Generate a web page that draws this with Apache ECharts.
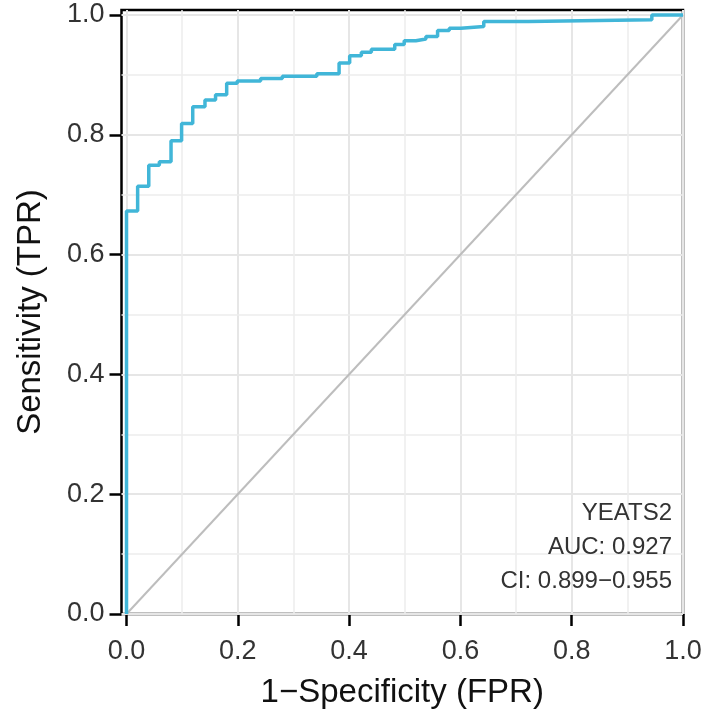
<!DOCTYPE html>
<html><head><meta charset="utf-8">
<script src="https://cdn.jsdelivr.net/npm/echarts@6/dist/echarts.min.js"></script>
<style>html,body{margin:0;padding:0;background:#fff;} #chart{width:708px;height:722px;}</style>
</head><body><div id="chart"></div>
<script>
// FPR positions where the ROC curve steps up, and the TPR reached at each step
const stepFPR = [0, 0.020, 0.040, 0.059, 0.080, 0.099, 0.119, 0.141, 0.160, 0.180, 0.199, 0.241, 0.280, 0.342, 0.382, 0.401, 0.422, 0.440, 0.482, 0.499, 0.520, 0.538, 0.559, 0.580, 0.601, 0.642, 0.722, 0.944];
const stepTPR = [0.673, 0.714, 0.749, 0.755, 0.790, 0.819, 0.847, 0.858, 0.867, 0.886, 0.890, 0.894, 0.898, 0.902, 0.920, 0.932, 0.938, 0.943, 0.951, 0.957, 0.960, 0.964, 0.974, 0.978, 0.981, 0.989, 0.992, 1.000];
const diagonal = [[0, 0], [1, 1]];
const tickValues = [0, 0.2, 0.4, 0.6, 0.8, 1.0];
const majorGrid = [0, 0.2, 0.4, 0.6, 0.8, 1.0];
const minorGrid = [0.1, 0.3, 0.5, 0.7, 0.9];
const annotationLines = ['YEATS2', 'AUC: 0.927', 'CI: 0.899\u22120.955'];

const rocPoints = [[0, 0]];
let prev = 0;
stepFPR.forEach((x, i) => { rocPoints.push([x, prev]); rocPoints.push([x, stepTPR[i]]); prev = stepTPR[i]; });
rocPoints.push([1, prev]);

const FONT = 'Liberation Sans, Arial, Helvetica, sans-serif';
const gridLines = [];
majorGrid.forEach(v => {
  gridLines.push({ xAxis: v, lineStyle: { type: 'solid', width: 2, color: '#e6e6e6' } });
  gridLines.push({ yAxis: v, lineStyle: { type: 'solid', width: 2, color: '#e6e6e6' } });
});
minorGrid.forEach(v => {
  gridLines.push({ xAxis: v, lineStyle: { type: 'solid', width: 1.5, color: '#ececec' } });
  gridLines.push({ yAxis: v, lineStyle: { type: 'solid', width: 1.5, color: '#ececec' } });
});

const chart = echarts.init(document.getElementById('chart'), null, { renderer: 'canvas' });
chart.setOption({
  animation: false,
  backgroundColor: '#fff',
  textStyle: { fontFamily: FONT },
  grid: { left: 121.5, right: 25, top: 10, bottom: 108, show: true, borderColor: '#000', borderWidth: 2.5, backgroundColor: '#fff' },
  xAxis: {
    type: 'value', min: -0.009, max: 1,
    name: '1\u2212Specificity (FPR)', nameLocation: 'middle', nameGap: 62,
    nameTextStyle: { fontSize: 33, color: '#111', fontFamily: FONT },
    axisLine: { show: false, onZero: false },
    axisTick: { show: true, customValues: tickValues, length: 12, lineStyle: { color: '#000', width: 2.5 } },
    axisLabel: { customValues: tickValues, fontSize: 27, color: '#333', margin: 24, fontFamily: FONT, formatter: v => v.toFixed(1) },
    splitLine: { show: false }
  },
  yAxis: {
    type: 'value', min: 0, max: 1.0084,
    name: 'Sensitivity (TPR)', nameLocation: 'middle', nameGap: 74,
    nameTextStyle: { fontSize: 33, color: '#111', fontFamily: FONT },
    axisLine: { show: false, onZero: false },
    axisTick: { show: true, customValues: tickValues, length: 12, lineStyle: { color: '#000', width: 2.5 } },
    axisLabel: { customValues: tickValues, fontSize: 27, color: '#333', margin: 17, fontFamily: FONT, formatter: v => v.toFixed(1) },
    splitLine: { show: false }
  },
  series: [
    { type: 'line', name: 'grid', data: [], silent: true, z: 1,
      markLine: { silent: true, z: 1, symbol: ['none', 'none'], label: { show: false }, animation: false,
        lineStyle: { type: 'solid' }, emphasis: { disabled: true }, data: gridLines } },
    { type: 'line', name: 'diagonal', data: diagonal, symbol: 'none', silent: true, z: 3,
      lineStyle: { color: '#bdbdbd', width: 2 } },
    { type: 'line', name: 'ROC', data: rocPoints, symbol: 'none', silent: true, z: 4,
      lineStyle: { color: '#41b6d8', width: 3.5 } }
  ],
  graphic: annotationLines.map((t, i) => ({
    type: 'text', right: 36, top: 501 + i * 34, z: 10,
    style: { text: t, font: '24px ' + FONT, fill: '#333' }
  }))
});
</script></body></html>
